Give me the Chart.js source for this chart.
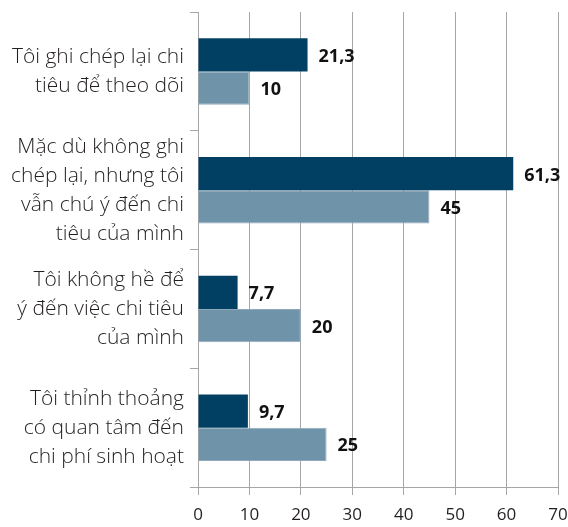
<!DOCTYPE html>
<html>
<head>
<meta charset="utf-8">
<script src="https://cdn.jsdelivr.net/npm/chart.js@4"></script>
<style>
  html, body { margin: 0; padding: 0; background: #fff; }
  #wrap { width: 568px; height: 527px; }
</style>
</head>
<body>
<div id="wrap"><canvas id="chart" width="568" height="527"></canvas></div>
<script>
// Nhãn danh mục (mỗi dòng một phần tử)
const categories = [
    ['Tôi ghi chép lại chi', 'tiêu để theo dõi'],
    ['Mặc dù không ghi', 'chép lại, nhưng tôi', 'vẫn chú ý đến chi', 'tiêu của mình'],
    ['Tôi không hề để', 'ý đến việc chi tiêu', 'của mình'],
    ['Tôi thỉnh thoảng', 'có quan tâm đến', 'chi phí sinh hoạt']
];
const seriesA = [21.3, 61.3, 7.7, 9.7];
const seriesB = [10, 45, 20, 25];
const xTicks = [0, 10, 20, 30, 40, 50, 60, 70];

const textColor = '#231f20';
const gridColor = '#a6a6a8';

// Vẽ giá trị ở cuối mỗi thanh
const valueLabels = {
    id: 'valueLabels',
    afterDatasetsDraw(chart) {
        const ctx = chart.ctx;
        ctx.save();
        ctx.font = 'bold 18px "Open Sans", sans-serif';
        ctx.fillStyle = '#111';
        ctx.textBaseline = 'middle';
        ctx.textAlign = 'left';
        chart.data.datasets.forEach((ds, i) => {
            chart.getDatasetMeta(i).data.forEach((bar, j) => {
                const txt = String(ds.data[j]).replace('.', ',');
                ctx.fillText(txt, bar.x + 11, bar.y + 2);
            });
        });
        ctx.restore();
    }
};

new Chart(document.getElementById('chart').getContext('2d'), {
    type: 'bar',
    data: {
        labels: categories,
        datasets: [{
            data: seriesA,
            backgroundColor: '#024063',
            borderWidth: 0,
            barPercentage: 1,
            categoryPercentage: 0.56
        }, {
            data: seriesB,
            backgroundColor: '#6f93a9',
            borderColor: '#8fa9ba',
            borderWidth: 1,
            barPercentage: 1,
            categoryPercentage: 0.56
        }]
    },
    options: {
        indexAxis: 'y',
        responsive: false,
        animation: false,
        layout: { padding: { top: 12, right: 0, left: 0, bottom: 0 } },
        plugins: {
            legend: { display: false },
            tooltip: { enabled: false }
        },
        scales: {
            x: {
                min: 0,
                max: 70,
                afterBuildTicks: (scale) => { scale.ticks = xTicks.map(v => ({ value: v })); },
                afterFit: (scale) => {
                    scale.height = 40;
                    scale.paddingRight = 10;
                },
                grid: { color: gridColor, lineWidth: 1, tickLength: 8 },
                border: { color: gridColor },
                ticks: {
                    color: textColor,
                    font: { family: '"Open Sans", sans-serif', size: 17 },
                    padding: 10
                }
            },
            y: {
                offset: true,
                afterFit: (scale) => {
                    scale.width = 198;
                    scale.paddingTop = 0;
                    scale.paddingBottom = 0;
                },
                grid: { offset: true, drawOnChartArea: false, color: gridColor, tickLength: 8 },
                border: { color: gridColor },
                ticks: {
                    autoSkip: false,
                    color: textColor,
                    font: { family: '"Open Sans", sans-serif', size: 21, weight: '300', lineHeight: 1.38 },
                    padding: 6
                }
            }
        }
    },
    plugins: [valueLabels]
});
</script>
</body>
</html>
